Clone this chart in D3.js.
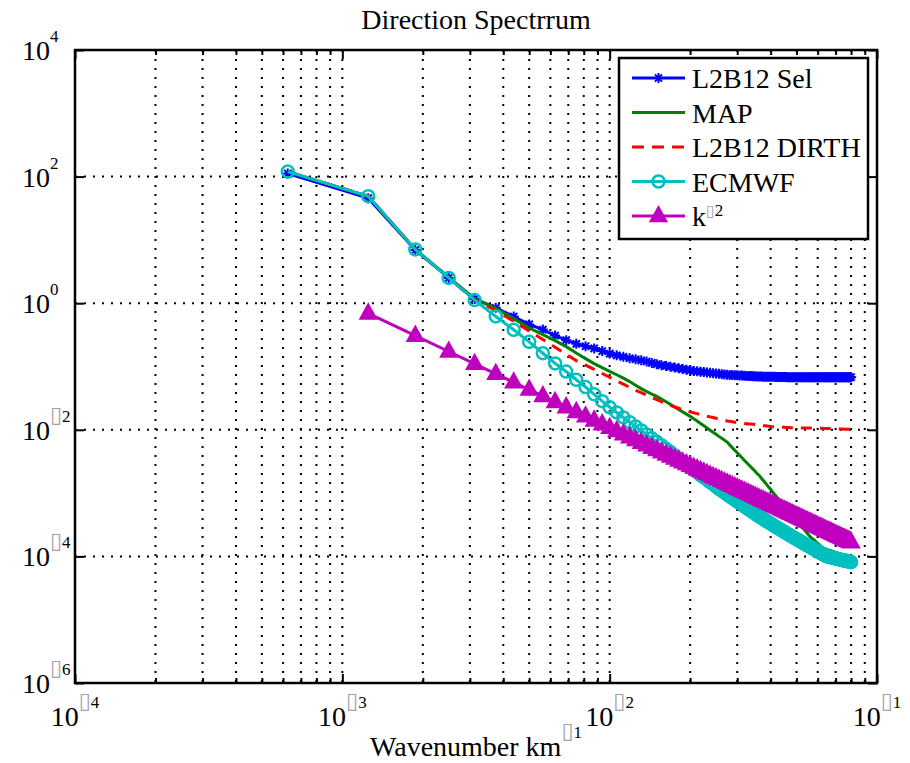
<!DOCTYPE html>
<html lang="en">
	<head>
		<meta charset="utf-8">
		<title>Direction Spectrrum</title>
		<script src="https://d3js.org/d3.v7.min.js" charset="utf-8"></script>
		<style type="text/css">
			body { margin: 0; background: #fff; }
			svg text { fill: #000; }
			.tofu { fill: #a6a0b4; }
		</style>
	</head>
	<body>
		<script type="text/javascript">

			// Wavenumber grid (km^-1)
			var wavenumber = [
				0.000625, 0.00125, 0.001875, 0.0025, 0.003125, 0.00375, 0.004375, 0.005,
				0.005625, 0.00625, 0.006875, 0.0075, 0.008125, 0.00875, 0.009375, 0.01,
				0.010625, 0.01125, 0.011875, 0.0125, 0.013125, 0.01375, 0.014375, 0.015,
				0.015625, 0.01625, 0.016875, 0.0175, 0.018125, 0.01875, 0.019375, 0.02,
				0.020625, 0.02125, 0.021875, 0.0225, 0.023125, 0.02375, 0.024375, 0.025,
				0.025625, 0.02625, 0.026875, 0.0275, 0.028125, 0.02875, 0.029375, 0.03,
				0.030625, 0.03125, 0.031875, 0.0325, 0.033125, 0.03375, 0.034375, 0.035,
				0.035625, 0.03625, 0.036875, 0.0375, 0.038125, 0.03875, 0.039375, 0.04,
				0.040625, 0.04125, 0.041875, 0.0425, 0.043125, 0.04375, 0.044375, 0.045,
				0.045625, 0.04625, 0.046875, 0.0475, 0.048125, 0.04875, 0.049375, 0.05,
				0.050625, 0.05125, 0.051875, 0.0525, 0.053125, 0.05375, 0.054375, 0.055,
				0.055625, 0.05625, 0.056875, 0.0575, 0.058125, 0.05875, 0.059375, 0.06,
				0.060625, 0.06125, 0.061875, 0.0625, 0.063125, 0.06375, 0.064375, 0.065,
				0.065625, 0.06625, 0.066875, 0.0675, 0.068125, 0.06875, 0.069375, 0.07,
				0.070625, 0.07125, 0.071875, 0.0725, 0.073125, 0.07375, 0.074375, 0.075,
				0.075625, 0.07625, 0.076875, 0.0775, 0.078125, 0.07875, 0.079375, 0.08
			];

			// L2B12 Sel
			var l2b12Sel = [
				112, 45.7, 6.92, 2.51, 1.17, 0.845, 0.617, 0.462,
				0.383, 0.308, 0.261, 0.228, 0.209, 0.193, 0.175, 0.160,
				0.150, 0.142, 0.135, 0.130, 0.125, 0.120, 0.114, 0.109,
				0.105, 0.102, 0.0991, 0.0962, 0.0938, 0.0912, 0.0891, 0.0869,
				0.0849, 0.0838, 0.0826, 0.0815, 0.0805, 0.0794, 0.0783, 0.0774,
				0.0766, 0.0757, 0.0748, 0.0741, 0.0736, 0.0733, 0.0729, 0.0726,
				0.0721, 0.0718, 0.0714, 0.0711, 0.0708, 0.0705, 0.0701, 0.0700,
				0.0697, 0.0693, 0.0692, 0.0690, 0.0690, 0.0689, 0.0687, 0.0687,
				0.0686, 0.0686, 0.0684, 0.0684, 0.0682, 0.0682, 0.0681, 0.0681,
				0.0680, 0.0679, 0.0679, 0.0678, 0.0678, 0.0677, 0.0677, 0.0676,
				0.0676, 0.0677, 0.0675, 0.0676, 0.0676, 0.0675, 0.0676, 0.0677,
				0.0676, 0.0675, 0.0676, 0.0676, 0.0677, 0.0675, 0.0676, 0.0676,
				0.0675, 0.0676, 0.0677, 0.0676, 0.0675, 0.0676, 0.0676, 0.0677,
				0.0676, 0.0675, 0.0676, 0.0677, 0.0676, 0.0676, 0.0675, 0.0676,
				0.0677, 0.0676, 0.0676, 0.0675, 0.0676, 0.0677, 0.0676, 0.0676,
				0.0675, 0.0676, 0.0677, 0.0676, 0.0676, 0.0675, 0.0676, 0.0677
			];

			// MAP
			var mapSpec = [
				120, 49, 7.08, 2.57, 1.17, 0.834, 0.571, 0.408,
				0.319, 0.256, 0.206, 0.164, 0.133, 0.111, 0.0959, 0.0839,
				0.0741, 0.0656, 0.0578, 0.0507, 0.0448, 0.0403, 0.0366, 0.0337,
				0.0307, 0.0277, 0.0252, 0.0230, 0.0210, 0.0192, 0.0177, 0.0163,
				0.0149, 0.0138, 0.0126, 0.0116, 0.0107, 0.00986, 0.00914, 0.00848,
				0.00787, 0.00735, 0.00687, 0.00640, 0.00578, 0.00522, 0.00476, 0.00435,
				0.00397, 0.00362, 0.00331, 0.00305, 0.00281, 0.00259, 0.00239, 0.00221,
				0.00203, 0.00190, 0.00173, 0.00160, 0.00147, 0.00135, 0.00124, 0.00115,
				0.00105, 0.00097, 0.000904, 0.000832, 0.000776, 0.000724, 0.000676, 0.000631,
				0.000589, 0.000550, 0.000513, 0.000479, 0.000452, 0.000422, 0.000393, 0.000371,
				0.000350, 0.000326, 0.000308, 0.000290, 0.000274, 0.000258, 0.000240, 0.000230,
				0.000216, 0.000204, 0.000196, 0.000188, 0.000182, 0.000174, 0.000167, 0.000161,
				0.000155, 0.000149, 0.000143, 0.000138, 0.000135, 0.000132, 0.000131, 0.000129,
				0.000127, 0.000125, 0.000124, 0.000122, 0.000121, 0.000119, 0.000117, 0.000116,
				0.000114, 0.000113, 0.000111, 0.000110, 0.000109, 0.000107, 0.000106, 0.000105,
				0.000104, 0.000102, 0.000101, 0.000100, 0.0000989, 0.0000977, 0.0000966, 0.0000955
			];

			// L2B12 DIRTH
			var l2b12Dirth = [
				120, 49, 7.08, 2.51, 1.12, 0.766, 0.519, 0.364,
				0.267, 0.202, 0.156, 0.124, 0.105, 0.0899, 0.0776, 0.0676,
				0.0594, 0.0526, 0.0468, 0.0422, 0.0385, 0.0353, 0.0324, 0.0301,
				0.0279, 0.0260, 0.0243, 0.0229, 0.0219, 0.0208, 0.0200, 0.0192,
				0.0185, 0.0180, 0.0174, 0.0169, 0.0164, 0.0160, 0.0156, 0.0152,
				0.0148, 0.0145, 0.0142, 0.0138, 0.0136, 0.0134, 0.0132, 0.0131,
				0.0129, 0.0128, 0.0126, 0.0125, 0.0124, 0.0123, 0.0122, 0.0121,
				0.0119, 0.0119, 0.0117, 0.0116, 0.0116, 0.0115, 0.0114, 0.0113,
				0.0112, 0.0112, 0.0111, 0.0111, 0.0111, 0.0110, 0.0110, 0.0110,
				0.0109, 0.0109, 0.0109, 0.0108, 0.0108, 0.0108, 0.0108, 0.0108,
				0.0107, 0.0107, 0.0107, 0.0107, 0.0107, 0.0107, 0.0107, 0.0107,
				0.0107, 0.0107, 0.0107, 0.0107, 0.0106, 0.0106, 0.0106, 0.0106,
				0.0106, 0.0106, 0.0106, 0.0106, 0.0105, 0.0105, 0.0105, 0.0105,
				0.0105, 0.0105, 0.0104, 0.0104, 0.0104, 0.0104, 0.0104, 0.0104,
				0.0103, 0.0103, 0.0103, 0.0103, 0.0103, 0.0103, 0.0103, 0.0103,
				0.0102, 0.0102, 0.0102, 0.0102, 0.0102, 0.0102, 0.0102, 0.0102
			];

			// ECMWF
			var ecmwf = [
				120, 49, 7.08, 2.51, 1.12, 0.617, 0.380, 0.245,
				0.162, 0.112, 0.0832, 0.0617, 0.0474, 0.0364, 0.0283, 0.0227,
				0.0188, 0.0157, 0.0132, 0.0113, 0.00975, 0.00845, 0.00733, 0.00646,
				0.00568, 0.00500, 0.00444, 0.00394, 0.00352, 0.00315, 0.00284, 0.00256,
				0.00231, 0.00212, 0.00193, 0.00177, 0.00163, 0.00149, 0.00138, 0.00127,
				0.00117, 0.00109, 0.00102, 0.000948, 0.000887, 0.000832, 0.000783, 0.000738,
				0.000695, 0.000655, 0.000617, 0.000585, 0.000555, 0.000526, 0.000499, 0.000473,
				0.000449, 0.000429, 0.000407, 0.000391, 0.000375, 0.000359, 0.000344, 0.000330,
				0.000317, 0.000304, 0.000294, 0.000282, 0.000272, 0.000262, 0.000253, 0.000244,
				0.000236, 0.000228, 0.000219, 0.000212, 0.000206, 0.000199, 0.000192, 0.000187,
				0.000182, 0.000176, 0.000171, 0.000166, 0.000162, 0.000157, 0.000152, 0.000149,
				0.000145, 0.000141, 0.000137, 0.000133, 0.000130, 0.000127, 0.000123, 0.000121,
				0.000117, 0.000115, 0.000112, 0.000109, 0.000107, 0.000104, 0.000102, 0.0000998,
				0.0000989, 0.0000980, 0.0000971, 0.0000962, 0.0000953, 0.0000944, 0.0000935, 0.0000927,
				0.0000918, 0.0000910, 0.0000902, 0.0000895, 0.0000889, 0.0000881, 0.0000873, 0.0000867,
				0.0000859, 0.0000853, 0.0000845, 0.0000839, 0.0000832, 0.0000826, 0.0000818, 0.0000813
			];

			// k^-2 reference line (starts at the 2nd wavenumber)
			var kSlope = [
				null, 0.69, 0.3067, 0.1725, 0.1104, 0.07667, 0.05633, 0.04313,
				0.03407, 0.0276, 0.02281, 0.01917, 0.01633, 0.01408, 0.01227, 0.01078,
				0.00955, 0.00852, 0.00765, 0.0069, 0.00626, 0.0057, 0.00522, 0.00479,
				0.00442, 0.00408, 0.00379, 0.00352, 0.00328, 0.00307, 0.00287, 0.0027,
				0.00253, 0.00239, 0.00225, 0.00213, 0.00202, 0.00191, 0.00181, 0.001725,
				0.001642, 0.001565, 0.001493, 0.001426, 0.001363, 0.001304, 0.001249, 0.001198,
				0.00115, 0.001104, 0.001061, 0.001021, 0.000983, 0.000947, 0.000912, 0.00088,
				0.00085, 0.00082, 0.000793, 0.000767, 0.000742, 0.000718, 0.000695, 0.000674,
				0.000653, 0.000634, 0.000615, 0.000597, 0.00058, 0.000563, 0.000548, 0.000532,
				0.000518, 0.000504, 0.000491, 0.000478, 0.000466, 0.000454, 0.000442, 0.000431,
				0.000421, 0.00041, 0.000401, 0.000391, 0.000382, 0.000373, 0.000365, 0.000356,
				0.000348, 0.000341, 0.000333, 0.000326, 0.000319, 0.000312, 0.000306, 0.000299,
				0.000293, 0.000287, 0.000282, 0.000276, 0.000271, 0.000265, 0.00026, 0.000255,
				0.00025, 0.000246, 0.000241, 0.000237, 0.000232, 0.000228, 0.000224, 0.00022,
				0.000216, 0.000212, 0.000209, 0.000205, 0.000202, 0.000198, 0.000195, 0.000192,
				0.000189, 0.000185, 0.000182, 0.000179, 0.000177, 0.000174, 0.000171, 0.000168
			];

			// Axis ticks (powers of ten)
			var xTickExps = [-4, -3, -2, -1];
			var yTickExps = [-6, -4, -2, 0, 2, 4];

			var seriesNames = ["L2B12 Sel", "MAP", "L2B12 DIRTH", "ECMWF", "k"];

			var serifFont = "'Liberation Serif', 'DejaVu Serif', 'Times New Roman', Times, serif";
			var boxFont = "'DejaVu Sans', sans-serif";
			var fontPx = 28;

			// Set dimensions
			var W = 910, H = 763;
			var margin = {top: 50, right: 33, bottom: 80, left: 75};
			var w = W - margin.left - margin.right;
			var h = H - margin.top - margin.bottom;

			var xScale = d3.scaleLog().domain([1e-4, 1e-1]).range([0, w]);
			var yScale = d3.scaleLog().domain([1e-6, 1e4]).range([h, 0]);

			var series = [
				{name: seriesNames[0], values: l2b12Sel, color: "#0000FF", marker: "star"},
				{name: seriesNames[1], values: mapSpec, color: "#008000", marker: null},
				{name: seriesNames[2], values: l2b12Dirth, color: "#FF0000", marker: null, dash: "11,8"},
				{name: seriesNames[3], values: ecmwf, color: "#00BFBF", marker: "circle"},
				{name: seriesNames[4], values: kSlope, color: "#BF00BF", marker: "triangle"}
			];

			var svg = d3.select("body")
				.append("svg")
				.attr("width", W)
				.attr("height", H)
				.attr("font-family", serifFont);

			var g = svg.append("g")
				.attr("transform", "translate(" + margin.left + "," + margin.top + ")");

			// Grid lines
			var xGrid = xScale.ticks().filter(function(d) { return d > 1.01e-4 && d < 0.099; });
			g.selectAll(".vgrid")
				.data(xGrid)
				.enter()
				.append("line")
				.attr("class", "vgrid")
				.attr("x1", function(d) { return xScale(d); })
				.attr("x2", function(d) { return xScale(d); })
				.attr("y1", 0)
				.attr("y2", h)
				.attr("stroke", "#000")
				.attr("stroke-width", 2)
				.attr("stroke-dasharray", "2,7");

			var yMajor = yTickExps.map(function(e) { return Math.pow(10, e); });
			g.selectAll(".hgrid")
				.data(yMajor.slice(1, -1))
				.enter()
				.append("line")
				.attr("class", "hgrid")
				.attr("x1", 0)
				.attr("x2", w)
				.attr("y1", function(d) { return yScale(d); })
				.attr("y2", function(d) { return yScale(d); })
				.attr("stroke", "#000")
				.attr("stroke-width", 2)
				.attr("stroke-dasharray", "2,7");

			// Tick marks (inside, all four sides)
			var xMajor = xTickExps.map(function(e) { return Math.pow(10, e); });
			var xMinor = xScale.ticks().filter(function(d) { return xMajor.indexOf(d) < 0; });

			function tickAxis(axis, tr) {
				var a = g.append("g").attr("transform", tr).call(axis);
				a.select(".domain").remove();
				a.selectAll("line").attr("stroke", "#000").attr("stroke-width", 2);
			}
			tickAxis(d3.axisBottom(xScale).tickValues(xMajor).tickSize(-9).tickFormat(""), "translate(0," + h + ")");
			tickAxis(d3.axisBottom(xScale).tickValues(xMinor).tickSize(-5).tickFormat(""), "translate(0," + h + ")");
			tickAxis(d3.axisTop(xScale).tickValues(xMajor).tickSize(-9).tickFormat(""), "translate(0,0)");
			tickAxis(d3.axisTop(xScale).tickValues(xMinor).tickSize(-5).tickFormat(""), "translate(0,0)");
			tickAxis(d3.axisLeft(yScale).tickValues(yMajor).tickSize(-9).tickFormat(""), "translate(0,0)");
			tickAxis(d3.axisRight(yScale).tickValues(yMajor).tickSize(-9).tickFormat(""), "translate(" + w + ",0)");

			// Power-of-ten label: "10" + superscript (minus shows as a box, like the original)
			function supPart(sel, txt, rise, boxPx) {
				if (txt.charAt(0) === "-") {
					sel.append("tspan").attr("class", "tofu").attr("dy", -rise)
						.attr("font-family", boxFont).style("font-size", (boxPx || 22) + "px").text("\u25AF");
					sel.append("tspan").style("font-size", "17px").text(txt.slice(1));
				} else {
					sel.append("tspan").attr("dy", -rise).style("font-size", "17px").text(txt);
				}
			}

			function powerLabel(sel, exp) {
				sel.append("tspan").text("10");
				supPart(sel, String(exp), 18);
			}

			g.selectAll(".xlab")
				.data(xTickExps)
				.enter()
				.append("text")
				.attr("class", "xlab")
				.attr("x", function(d) { return xScale(Math.pow(10, d)); })
				.attr("y", h + 43)
				.attr("text-anchor", "middle")
				.style("font-size", fontPx + "px")
				.each(function(d) { powerLabel(d3.select(this), d); });

			g.selectAll(".ylab")
				.data(yTickExps)
				.enter()
				.append("text")
				.attr("class", "ylab")
				.attr("x", 22 - margin.left)
				.attr("y", function(d) { return yScale(Math.pow(10, d)) + 10; })
				.attr("text-anchor", "start")
				.style("font-size", fontPx + "px")
				.each(function(d) { powerLabel(d3.select(this), d); });

			// Series lines and markers
			var line = d3.line()
				.defined(function(d) { return d[1] != null; })
				.x(function(d) { return xScale(d[0]); })
				.y(function(d) { return yScale(d[1]); });

			var starPath = "M-5,0H5M0,-5V5M-3.6,-3.6L3.6,3.6M-3.6,3.6L3.6,-3.6";
			var triPath = "M0,-8.5L7.5,5L-7.5,5Z";

			function drawMarker(sel, s) {
				if (s.marker === "star") {
					sel.append("path").attr("d", starPath).attr("stroke", s.color)
						.attr("stroke-width", 2).attr("fill", "none");
				} else if (s.marker === "circle") {
					sel.append("circle").attr("r", 6).attr("stroke", s.color)
						.attr("stroke-width", 2.5).attr("fill", "none");
				} else if (s.marker === "triangle") {
					sel.append("path").attr("d", triPath).attr("stroke", s.color)
						.attr("stroke-width", 2.5).attr("fill", s.color);
				}
			}

			series.forEach(function(s) {
				var pts = wavenumber.map(function(k, i) { return [k, s.values[i]]; });
				var sg = g.append("g").attr("class", "series");
				sg.append("path")
					.datum(pts)
					.attr("fill", "none")
					.attr("stroke", s.color)
					.attr("stroke-width", 3)
					.attr("stroke-dasharray", s.dash || null)
					.attr("d", line);
				if (s.marker) {
					sg.selectAll(".mk")
						.data(pts.filter(function(d) { return d[1] != null; }))
						.enter()
						.append("g")
						.attr("class", "mk")
						.attr("transform", function(d) { return "translate(" + xScale(d[0]) + "," + yScale(d[1]) + ")"; })
						.each(function() { drawMarker(d3.select(this), s); });
				}
			});

			// Axes box
			g.append("rect")
				.attr("width", w)
				.attr("height", h)
				.attr("fill", "none")
				.attr("stroke", "#000")
				.attr("stroke-width", 2.5);

			// Legend
			var lx = 619 - margin.left, ly = 58 - margin.top;
			var legend = g.append("g").attr("transform", "translate(" + lx + "," + ly + ")");
			legend.append("rect")
				.attr("width", 249)
				.attr("height", 181)
				.attr("fill", "#fff")
				.attr("stroke", "#000")
				.attr("stroke-width", 2.5);

			var items = legend.selectAll(".item")
				.data(series)
				.enter()
				.append("g")
				.attr("class", "item")
				.attr("transform", function(d, i) { return "translate(0," + (20 + i * 34.5) + ")"; });

			items.append("line")
				.attr("x1", 13)
				.attr("x2", 66)
				.attr("stroke", function(d) { return d.color; })
				.attr("stroke-width", 3)
				.attr("stroke-dasharray", function(d) { return d.dash ? "12,8" : null; });

			items.append("g")
				.attr("transform", "translate(39.5,0)")
				.each(function(d) { drawMarker(d3.select(this), d); });

			items.append("text")
				.attr("x", 73)
				.attr("y", 10)
				.style("font-size", fontPx + "px")
				.each(function(d) {
					var t = d3.select(this);
					t.append("tspan").text(d.name);
					if (d.name === "k") supPart(t, "-2", 10, 16);
				});

			// Title and x label
			svg.append("text")
				.attr("x", margin.left + w / 2)
				.attr("y", 29)
				.attr("text-anchor", "middle")
				.style("font-size", fontPx + "px")
				.text("Direction Spectrrum");

			var xl = svg.append("text")
				.attr("x", margin.left + w / 2)
				.attr("y", 756)
				.attr("text-anchor", "middle")
				.style("font-size", fontPx + "px");
			xl.append("tspan").text("Wavenumber km");
			supPart(xl, "-1", 18);

		</script>
	</body>
</html>
